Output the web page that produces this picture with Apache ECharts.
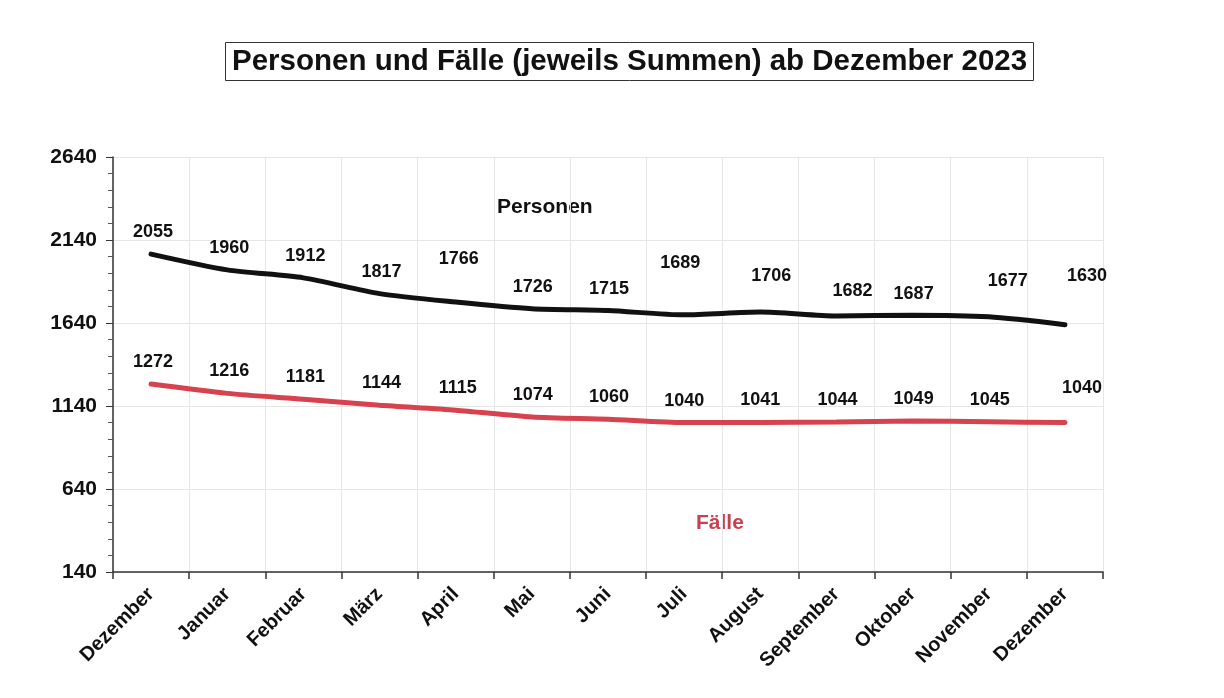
<!DOCTYPE html>
<html>
<head>
<meta charset="utf-8">
<script src="https://cdn.jsdelivr.net/npm/echarts@6/dist/echarts.min.js"></script>
<style>
html,body{margin:0;padding:0;background:#fff;}
#chart{width:1224px;height:698px;}
</style>
</head>
<body>
<div id="chart"></div>
<script>
const months = ["Dezember","Januar","Februar","März","April","Mai","Juni","Juli","August","September","Oktober","November","Dezember"];
const personen = [2055,1960,1912,1817,1766,1726,1715,1689,1706,1682,1687,1677,1630];
const faelle = [1272,1216,1181,1144,1115,1074,1060,1040,1041,1044,1049,1045,1040];
const yTicks = [140,640,1140,1640,2140,2640];

// label placement tweaks (style only)
const personenLabelShift = [[2,0],[2,0],[2,0],[2,0],[3,-21],[1,0],[1,0],[-4,-30],[11,-14],[16,-3],[1,1],[19,-14],[22,-27]];
const faelleLabelShift = [[2,0],[2,0],[2,0],[2,0],[2,0],[1,0],[1,0],[0,0],[0,0],[1,0],[1,0],[1,0],[17,-13]];

const FONT = '"Liberation Sans", Arial, sans-serif';
const labelBase = {show:true, position:'top', distance:13, fontFamily:FONT, fontSize:18, fontWeight:'bold', color:'#111'};

function withLabels(vals, shifts){
  return vals.map((v,i)=>({value:v, label:Object.assign({}, labelBase, {offset:shifts[i]})}));
}

const chart = echarts.init(document.getElementById('chart'), null, {renderer:'canvas'});
chart.setOption({
  backgroundColor:'#ffffff',
  animation:false,
  title:{
    text:'Personen und Fälle (jeweils Summen) ab Dezember 2023',
    left:225, top:42,
    padding:[5,7,4,7],
    borderColor:'#333', borderWidth:1,
    textStyle:{fontFamily:FONT, fontSize:29.5, fontWeight:'bold', color:'#111'}
  },
  graphic:[
    {type:'text', left:497, top:197, style:{text:'Personen', font:'bold 21px '+FONT, fill:'#111'}},
    {type:'text', left:696, top:513, style:{text:'Fälle', font:'bold 21px '+FONT, fill:'#c8414f'}}
  ],
  grid:{left:113, right:121, top:157, bottom:126, containLabel:false},
  xAxis:{
    type:'category', data:months, boundaryGap:true,
    axisLine:{lineStyle:{color:'#333', width:1.5}},
    axisTick:{show:true, alignWithLabel:false, length:7, lineStyle:{color:'#333', width:1.5}},
    axisLabel:{rotate:45, interval:0, margin:19, fontFamily:FONT, fontSize:20, fontWeight:'bold', color:'#111'},
    splitLine:{show:true, lineStyle:{color:'#e6e6e6', width:1}}
  },
  yAxis:{
    type:'value', min:yTicks[0], max:yTicks[yTicks.length-1], interval:500,
    axisLine:{show:true, lineStyle:{color:'#333', width:1.5}},
    axisTick:{show:true, inside:false, length:7, lineStyle:{color:'#333'}},
    minorTick:{show:true, splitNumber:5, length:5, lineStyle:{color:'#555'}},
    axisLabel:{fontFamily:FONT, fontSize:21, fontWeight:'bold', color:'#111', margin:16, formatter:v=>String(v)},
    splitLine:{show:true, lineStyle:{color:'#e6e6e6', width:1}}
  },
  series:[
    {
      name:'Personen', type:'line', data:withLabels(personen, personenLabelShift),
      smooth:0.25, showSymbol:true, symbol:'circle', symbolSize:0,
      lineStyle:{color:'#111', width:5, cap:'round'},
      itemStyle:{color:'#111'},
      label:labelBase
    },
    {
      name:'Fälle', type:'line', data:withLabels(faelle, faelleLabelShift),
      smooth:0.25, showSymbol:true, symbol:'circle', symbolSize:0,
      lineStyle:{color:'#d6424e', width:5, cap:'round'},
      itemStyle:{color:'#d6424e'},
      label:labelBase
    }
  ]
});
</script>
</body>
</html>
